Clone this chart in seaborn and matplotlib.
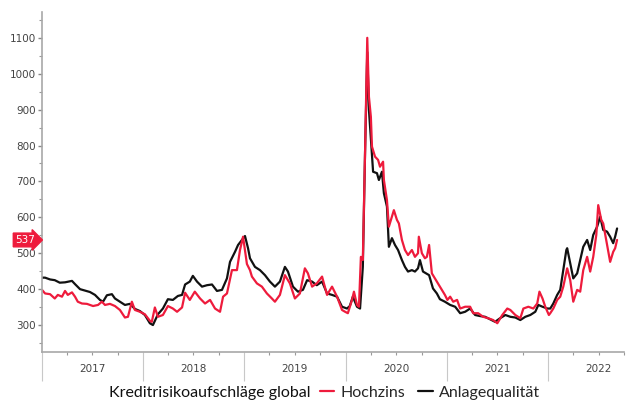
import matplotlib
matplotlib.use("Agg")
import matplotlib.pyplot as plt
import matplotlib.dates as mdates
import matplotlib.transforms as mtransforms
from matplotlib.lines import Line2D
import seaborn as sns
import pandas as pd
import numpy as np

# ---------------- data ----------------
ig_dates = ["2017-01-02","2017-01-12","2017-01-30","2017-02-16","2017-03-06","2017-03-25","2017-04-19","2017-04-30",
 "2017-05-18","2017-06-05","2017-06-23","2017-07-11","2017-07-29","2017-08-09","2017-08-23","2017-09-10","2017-09-21",
 "2017-10-09","2017-10-27","2017-11-14","2017-12-02","2017-12-20","2018-01-07","2018-01-25","2018-02-05","2018-02-23",
 "2018-03-13","2018-03-31","2018-04-18","2018-05-06","2018-05-21","2018-06-01","2018-06-18","2018-06-29","2018-07-14",
 "2018-08-01","2018-08-19","2018-09-06","2018-09-24","2018-10-12","2018-10-30","2018-11-10","2018-11-28","2018-12-09",
 "2018-12-23","2019-01-03","2019-01-14","2019-01-21","2019-02-08","2019-02-26","2019-03-16","2019-04-03","2019-04-21",
 "2019-05-09","2019-05-27","2019-06-07","2019-06-25","2019-07-13","2019-07-31","2019-08-15","2019-09-02","2019-09-19",
 "2019-10-08","2019-10-26","2019-11-13","2019-12-01","2019-12-19","2020-01-06","2020-01-16","2020-01-27","2020-02-11",
 "2020-02-22","2020-03-03","2020-03-11","2020-03-19","2020-03-25","2020-04-01","2020-04-09","2020-04-23","2020-04-30",
 "2020-05-11","2020-05-18","2020-05-29","2020-06-05","2020-06-16","2020-06-27","2020-07-08","2020-07-22","2020-08-02",
 "2020-08-13","2020-08-27","2020-09-07","2020-09-18","2020-09-25","2020-10-06","2020-10-17","2020-10-28","2020-11-11",
 "2020-11-25","2020-12-06","2020-12-24","2021-01-12","2021-01-30","2021-02-17","2021-03-07","2021-03-25","2021-04-12",
 "2021-04-30","2021-05-18","2021-06-05","2021-06-23","2021-07-11","2021-07-30","2021-08-17","2021-09-04","2021-09-22",
 "2021-10-10","2021-10-28","2021-11-15","2021-11-26","2021-12-11","2021-12-29","2022-01-08","2022-01-19","2022-02-02",
 "2022-02-13","2022-02-24","2022-03-07","2022-03-10","2022-03-21","2022-04-01","2022-04-15","2022-04-26","2022-05-07",
 "2022-05-21","2022-06-01","2022-06-12","2022-06-26","2022-07-07","2022-07-18","2022-08-01","2022-08-12","2022-08-23",
 "2022-08-30","2022-09-06"]
ig_values = [432,432,427,425,418,419,423,414,
 400,396,392,384,370,365,383,386,374,
 365,356,359,345,339,328,305,300,330,
 346,372,370,381,384,413,421,437,421,
 407,411,413,395,398,430,476,504,523,
 537,548,514,486,462,453,439,421,407,
 421,462,449,407,393,398,425,421,411,
 421,388,384,379,351,346,353,379,351,
 346,462,779,1060,900,820,727,723,704,
 727,667,630,518,542,523,509,481,462,
 449,453,449,458,481,449,444,439,402,
 388,372,365,356,351,333,337,346,328,
 325,323,316,309,319,328,323,321,314,
 323,328,337,356,351,346,346,360,384,
 398,453,509,514,472,430,444,481,518,
 537,509,551,574,602,565,560,546,528,
 546,569]

hy_dates = ["2017-01-02","2017-01-12","2017-01-30","2017-02-16","2017-02-27","2017-03-14","2017-03-25","2017-04-04",
 "2017-04-19","2017-04-30","2017-05-10","2017-05-25","2017-06-12","2017-07-04","2017-07-22","2017-08-05","2017-08-16",
 "2017-09-03","2017-09-21","2017-10-09","2017-10-27","2017-11-07","2017-11-21","2017-12-02","2017-12-20","2018-01-07",
 "2018-01-25","2018-02-01","2018-02-12","2018-02-23","2018-03-13","2018-03-31","2018-04-18","2018-05-03","2018-05-21",
 "2018-06-01","2018-06-18","2018-07-06","2018-07-25","2018-08-12","2018-08-30","2018-09-17","2018-10-05","2018-10-16",
 "2018-10-30","2018-11-17","2018-12-05","2018-12-16","2018-12-27","2019-01-10","2019-01-21","2019-01-28","2019-02-15",
 "2019-03-05","2019-03-23","2019-04-10","2019-04-21","2019-05-09","2019-05-27","2019-06-14","2019-07-02","2019-07-20",
 "2019-08-07","2019-08-18","2019-09-02","2019-09-19","2019-10-08","2019-10-26","2019-11-13","2019-12-01","2019-12-19",
 "2019-12-30","2020-01-09","2020-01-24","2020-01-31","2020-02-11","2020-02-18","2020-02-25","2020-03-03","2020-03-11",
 "2020-03-19","2020-03-25","2020-04-01","2020-04-05","2020-04-16","2020-04-27","2020-05-04","2020-05-15","2020-05-18",
 "2020-05-29","2020-06-05","2020-06-16","2020-06-23","2020-07-04","2020-07-11","2020-07-22","2020-08-02","2020-08-13",
 "2020-08-27","2020-09-07","2020-09-18","2020-09-21","2020-10-02","2020-10-13","2020-10-20","2020-10-28","2020-11-07",
 "2020-11-18","2020-11-29","2020-12-13","2020-12-24","2021-01-02","2021-01-12","2021-01-23","2021-02-06","2021-02-17",
 "2021-03-07","2021-03-25","2021-04-05","2021-04-23","2021-05-11","2021-05-29","2021-06-16","2021-07-01","2021-07-19",
 "2021-08-06","2021-08-17","2021-09-04","2021-09-22","2021-10-03","2021-10-21","2021-11-08","2021-11-22","2021-11-30",
 "2021-12-11","2021-12-21","2022-01-03","2022-01-08","2022-01-19","2022-02-02","2022-02-13","2022-02-24","2022-03-10",
 "2022-03-21","2022-04-01","2022-04-15","2022-04-26","2022-05-07","2022-05-21","2022-06-01","2022-06-12","2022-06-23",
 "2022-06-30","2022-07-11","2022-07-18","2022-08-01","2022-08-12","2022-08-23","2022-08-30","2022-09-06"]
hy_values = [397,388,386,374,384,379,395,384,
 391,379,365,360,359,353,356,365,356,
 359,353,342,321,323,365,342,337,330,
 312,309,349,323,328,353,346,337,349,
 390,370,393,374,360,370,346,337,379,
 388,453,453,509,546,470,453,435,416,
 407,388,374,365,384,439,416,374,388,
 458,444,407,416,435,384,407,379,342,
 337,333,370,393,356,351,490,481,779,
 1100,936,880,797,769,760,741,755,704,
 648,574,602,620,593,583,537,509,495,
 509,490,500,546,500,486,490,523,444,
 430,416,398,384,370,379,365,370,346,
 351,351,333,333,323,319,314,305,328,
 346,342,328,319,346,351,346,360,393,
 374,351,328,333,346,370,379,407,458,
 425,365,398,393,453,490,449,490,551,
 634,593,583,523,476,504,514,537]

series_names = ["Hochzins", "Anlagequalität"]
series_colors = ["#ee1b3c", "#111111"]
chart_title = "Kreditrisikoaufschläge global"
years = [2017, 2018, 2019, 2020, 2021, 2022]
y_ticks = [300, 400, 500, 600, 700, 800, 900, 1000, 1100]

hy = pd.DataFrame({"date": pd.to_datetime(hy_dates), "value": hy_values})
ig = pd.DataFrame({"date": pd.to_datetime(ig_dates), "value": ig_values})

# ---------------- style ----------------
sns.set_style("white")
plt.rcParams["font.family"] = ["DejaVu Sans"]

fig = plt.figure(figsize=(6.30, 4.03), dpi=100)
ax = fig.add_axes([0.0667, 0.1266, 0.9238, 0.8437])

sns.lineplot(data=ig, x="date", y="value", ax=ax, color=series_colors[1], lw=1.6)
sns.lineplot(data=hy, x="date", y="value", ax=ax, color=series_colors[0], lw=1.6)

ax.set_xlim(pd.Timestamp("2017-01-01"), pd.Timestamp("2022-10-01"))
ax.set_ylim(225, 1172)
ax.set_xlabel("")
ax.set_ylabel("")

for s in ["top", "right"]:
    ax.spines[s].set_visible(False)
for s in ["left", "bottom"]:
    ax.spines[s].set_color("#a8a8a8")
    ax.spines[s].set_linewidth(1.2)

# y ticks
ax.set_yticks(y_ticks)
ax.set_yticks(np.arange(250, 1151, 100), minor=True)
ax.tick_params(axis="y", which="major", direction="out", length=3, width=1,
               color="#888888", labelsize=7.5, labelcolor="#444444", pad=1.5, left=True)
ax.tick_params(axis="y", which="minor", direction="out", length=2, width=0.8,
               color="#999999", left=True)

# x ticks: long separators at year starts, quarter minor ticks
ax.xaxis.set_major_locator(mdates.YearLocator())
ax.xaxis.set_minor_locator(mdates.MonthLocator(bymonth=[4, 7, 10]))
ax.xaxis.set_major_formatter(plt.NullFormatter())
ax.tick_params(axis="x", which="major", direction="out", length=21, width=0.8,
               color="#c8c8c8", bottom=True)
ax.tick_params(axis="x", which="minor", direction="out", length=2.5, width=0.8,
               color="#999999", bottom=True)

trans = mtransforms.blended_transform_factory(ax.transData, ax.transAxes)
for yr in years:
    ax.text(pd.Timestamp(f"{yr}-07-01"), -0.05, str(yr), transform=trans,
            ha="center", va="center", fontsize=7.5, color="#444444")

# last-value tag on y axis
last_val = hy_values[-1]
trans_y = mtransforms.blended_transform_factory(ax.transAxes, ax.transData)
ax.text(-0.012, last_val, str(last_val), transform=trans_y, ha="right", va="center",
        fontsize=7.5, color="white",
        bbox=dict(boxstyle="rarrow,pad=0.18", fc=series_colors[0], ec=series_colors[0]))

# bottom legend
leg_font = ["Lato", "DejaVu Sans"]
fig.text(0.493, 0.025, chart_title, ha="right", va="center", fontsize=11.5,
         family=leg_font, color="#111111")
handles = [Line2D([], [], color=c, lw=1.6) for c in series_colors]
fig.legend(handles, series_names, loc="center left", bbox_to_anchor=(0.508, 0.025),
           ncol=2, frameon=False, handlelength=0.9, handletextpad=0.4,
           columnspacing=0.8, borderpad=0, borderaxespad=0,
           prop={"family": leg_font, "size": 11.5})

fig.savefig("out.png", dpi=100)
